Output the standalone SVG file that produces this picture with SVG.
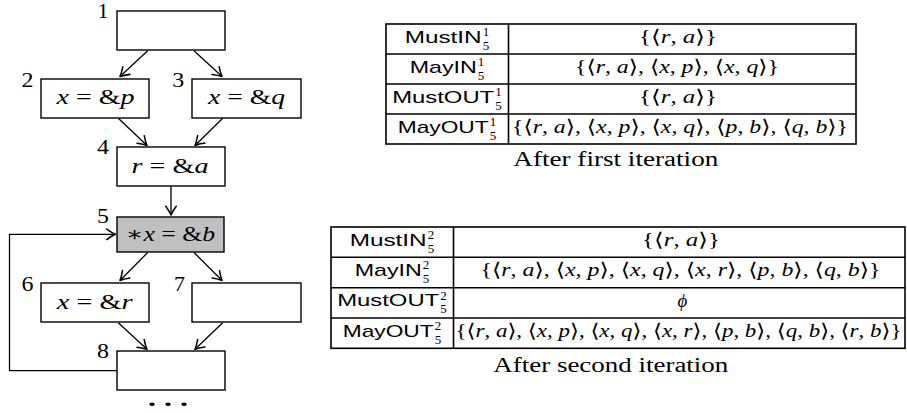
<svg xmlns="http://www.w3.org/2000/svg" width="907" height="413" viewBox="0 0 907 413">
<style>
  .box { fill: #ffffff; stroke: #000; stroke-width: 1.4; }
  .gray { fill: #c0c0c0; }
  .edge { fill: none; stroke: #000; stroke-width: 1.3; marker-end: url(#arr); }
  .tline { stroke: #000; stroke-width: 1.6; fill: none; }
  .num { font-family: "Liberation Serif", "DejaVu Serif", serif; font-size: 20px; text-anchor: middle; fill: #000; }
  .ntx { font-family: "Liberation Serif", "DejaVu Serif", serif; font-size: 20px; text-anchor: middle; fill: #000; }
  .lab { font-family: "Liberation Sans", "DejaVu Sans", sans-serif; font-size: 17px; fill: #000; }
  .scr { font-family: "Liberation Serif", "DejaVu Serif", serif; font-size: 12px; fill: #000; }
  .mth { font-family: "Liberation Serif", "DejaVu Serif", serif; font-size: 19px; text-anchor: middle; fill: #000; }
  .cap { font-family: "Liberation Serif", "DejaVu Serif", serif; font-size: 20px; text-anchor: middle; fill: #000; }
  .i { font-style: italic; }
</style>
<defs>
  <marker id="arr" markerUnits="userSpaceOnUse" markerWidth="14" markerHeight="14" refX="0" refY="0" viewBox="-9 -6 11 12" orient="auto" overflow="visible">
    <path d="M-7.5,-4.5 Q-3,-1.2 0,0 Q-3,1.2 -7.5,4.5" fill="none" stroke="#000" stroke-width="1.3" stroke-linecap="round" stroke-linejoin="round"/>
  </marker>
</defs>

<g id="connectors">
  <path id="e12" class="edge" d="M147.7,50.7 L120,76.5"/>
  <path id="e13" class="edge" d="M194,50.7 L222,76.5"/>
  <path id="e24" class="edge" d="M118.3,118.3 L147,145.5"/>
  <path id="e34" class="edge" d="M222.7,118.3 L195,145.5"/>
  <path id="e45" class="edge" d="M171,186 L171,215"/>
  <path id="e56" class="edge" d="M147.7,252.5 L120,280.5"/>
  <path id="e57" class="edge" d="M194,252.5 L222,280.5"/>
  <path id="e68" class="edge" d="M118.3,322.7 L147,349.3"/>
  <path id="e78" class="edge" d="M222.7,322.7 L195,349.3"/>
  <path id="e85" class="edge" d="M117,370.7 H9.5 V234.3 H115.5"/>
</g>

<g id="n1">
  <rect class="box" x="117" y="11" width="108" height="39"/>
  <text class="num" x="103" y="18" textLength="11" lengthAdjust="spacingAndGlyphs">1</text>
</g>
<g id="n2">
  <rect class="box" x="41" y="79" width="108" height="39"/>
  <text class="num" x="27.5" y="87" textLength="12" lengthAdjust="spacingAndGlyphs">2</text>
  <text class="ntx" x="95.5" y="104" textLength="78" lengthAdjust="spacingAndGlyphs"><tspan class="i">x</tspan> = &amp;<tspan class="i">p</tspan></text>
</g>
<g id="n3">
  <rect class="box" x="192" y="79" width="109" height="39"/>
  <text class="num" x="178.2" y="87" textLength="12" lengthAdjust="spacingAndGlyphs">3</text>
  <text class="ntx" x="246.6" y="104" textLength="77" lengthAdjust="spacingAndGlyphs"><tspan class="i">x</tspan> = &amp;<tspan class="i">q</tspan></text>
</g>
<g id="n4">
  <rect class="box" x="117" y="147" width="108" height="39"/>
  <text class="num" x="103" y="154" textLength="12" lengthAdjust="spacingAndGlyphs">4</text>
  <text class="ntx" x="170" y="172.5" textLength="77" lengthAdjust="spacingAndGlyphs"><tspan class="i">r</tspan> = &amp;<tspan class="i">a</tspan></text>
</g>
<g id="n5">
  <rect class="box gray" x="117" y="217" width="107" height="35"/>
  <text class="num" x="103" y="223" textLength="12" lengthAdjust="spacingAndGlyphs">5</text>
  <text class="ntx" x="170.5" y="241" textLength="89" lengthAdjust="spacingAndGlyphs">∗<tspan class="i">x</tspan> = &amp;<tspan class="i">b</tspan></text>
</g>
<g id="n6">
  <rect class="box" x="41" y="283" width="108" height="39"/>
  <text class="num" x="27.5" y="290.5" textLength="12" lengthAdjust="spacingAndGlyphs">6</text>
  <text class="ntx" x="94.7" y="308.5" textLength="76" lengthAdjust="spacingAndGlyphs"><tspan class="i">x</tspan> = &amp;<tspan class="i">r</tspan></text>
</g>
<g id="n7">
  <rect class="box" x="192" y="283" width="109" height="39"/>
  <text class="num" x="179.6" y="290.5" textLength="11" lengthAdjust="spacingAndGlyphs">7</text>
</g>
<g id="n8">
  <rect class="box" x="117" y="351" width="108" height="39"/>
  <text class="num" x="103" y="357.5" textLength="12" lengthAdjust="spacingAndGlyphs">8</text>
</g>
<g id="dots">
  <text class="num" x="168" y="406" style="font-size:21px;font-weight:bold" textLength="40" lengthAdjust="spacingAndGlyphs">. . .</text>
</g>

<g id="table1">
  <rect class="tline" x="386" y="24" width="470" height="120"/>
  <path class="tline" d="M508.5,24 V144 M386,54 H856 M386,84 H856 M386,114 H856"/>
  <text class="lab" x="404.7" y="42.5" textLength="77" lengthAdjust="spacingAndGlyphs">MustIN</text>
  <text class="scr" x="482.7" y="36" textLength="6.5" lengthAdjust="spacingAndGlyphs">1</text>
  <text class="scr" x="482.7" y="49.5" textLength="6.5" lengthAdjust="spacingAndGlyphs">5</text>
  <text class="lab" x="409.7" y="72.5" textLength="67" lengthAdjust="spacingAndGlyphs">MayIN</text>
  <text class="scr" x="477.7" y="66" textLength="6.5" lengthAdjust="spacingAndGlyphs">1</text>
  <text class="scr" x="477.7" y="79.5" textLength="6.5" lengthAdjust="spacingAndGlyphs">5</text>
  <text class="lab" x="392.2" y="102.5" textLength="102" lengthAdjust="spacingAndGlyphs">MustOUT</text>
  <text class="scr" x="495.2" y="96" textLength="6.5" lengthAdjust="spacingAndGlyphs">1</text>
  <text class="scr" x="495.2" y="109.5" textLength="6.5" lengthAdjust="spacingAndGlyphs">5</text>
  <text class="lab" x="397.7" y="132.5" textLength="91" lengthAdjust="spacingAndGlyphs">MayOUT</text>
  <text class="scr" x="489.7" y="126" textLength="6.5" lengthAdjust="spacingAndGlyphs">1</text>
  <text class="scr" x="489.7" y="139.5" textLength="6.5" lengthAdjust="spacingAndGlyphs">5</text>

  <text class="mth" x="678" y="43" textLength="78" lengthAdjust="spacingAndGlyphs">{⟨<tspan class="i">r</tspan>, <tspan class="i">a</tspan>⟩}</text>
  <text class="mth" x="677" y="73" textLength="204" lengthAdjust="spacingAndGlyphs">{⟨<tspan class="i">r</tspan>, <tspan class="i">a</tspan>⟩, ⟨<tspan class="i">x</tspan>, <tspan class="i">p</tspan>⟩, ⟨<tspan class="i">x</tspan>, <tspan class="i">q</tspan>⟩}</text>
  <text class="mth" x="678" y="103" textLength="78" lengthAdjust="spacingAndGlyphs">{⟨<tspan class="i">r</tspan>, <tspan class="i">a</tspan>⟩}</text>
  <text class="mth" x="680" y="133" textLength="336" lengthAdjust="spacingAndGlyphs">{⟨<tspan class="i">r</tspan>, <tspan class="i">a</tspan>⟩, ⟨<tspan class="i">x</tspan>, <tspan class="i">p</tspan>⟩, ⟨<tspan class="i">x</tspan>, <tspan class="i">q</tspan>⟩, ⟨<tspan class="i">p</tspan>, <tspan class="i">b</tspan>⟩, ⟨<tspan class="i">q</tspan>, <tspan class="i">b</tspan>⟩}</text>
  <text class="cap" x="615.8" y="165.5" textLength="205" lengthAdjust="spacingAndGlyphs">After first iteration</text>
</g>

<g id="table2">
  <rect class="tline" x="331" y="227" width="574" height="121.3"/>
  <path class="tline" d="M453.5,227 V348.3 M331,257.3 H905 M331,287.7 H905 M331,318 H905"/>
  <text class="lab" x="349.7" y="245.5" textLength="77" lengthAdjust="spacingAndGlyphs">MustIN</text>
  <text class="scr" x="427.7" y="239" textLength="6.5" lengthAdjust="spacingAndGlyphs">2</text>
  <text class="scr" x="427.7" y="252.5" textLength="6.5" lengthAdjust="spacingAndGlyphs">5</text>
  <text class="lab" x="354.7" y="275.8" textLength="67" lengthAdjust="spacingAndGlyphs">MayIN</text>
  <text class="scr" x="422.7" y="269.3" textLength="6.5" lengthAdjust="spacingAndGlyphs">2</text>
  <text class="scr" x="422.7" y="282.8" textLength="6.5" lengthAdjust="spacingAndGlyphs">5</text>
  <text class="lab" x="337.2" y="306.2" textLength="102" lengthAdjust="spacingAndGlyphs">MustOUT</text>
  <text class="scr" x="440.2" y="299.7" textLength="6.5" lengthAdjust="spacingAndGlyphs">2</text>
  <text class="scr" x="440.2" y="313.2" textLength="6.5" lengthAdjust="spacingAndGlyphs">5</text>
  <text class="lab" x="342.7" y="336.5" textLength="91" lengthAdjust="spacingAndGlyphs">MayOUT</text>
  <text class="scr" x="434.7" y="330" textLength="6.5" lengthAdjust="spacingAndGlyphs">2</text>
  <text class="scr" x="434.7" y="343.5" textLength="6.5" lengthAdjust="spacingAndGlyphs">5</text>

  <text class="mth" x="681" y="246" textLength="78" lengthAdjust="spacingAndGlyphs">{⟨<tspan class="i">r</tspan>, <tspan class="i">a</tspan>⟩}</text>
  <text class="mth" x="680.5" y="276.3" textLength="400" lengthAdjust="spacingAndGlyphs">{⟨<tspan class="i">r</tspan>, <tspan class="i">a</tspan>⟩, ⟨<tspan class="i">x</tspan>, <tspan class="i">p</tspan>⟩, ⟨<tspan class="i">x</tspan>, <tspan class="i">q</tspan>⟩, ⟨<tspan class="i">x</tspan>, <tspan class="i">r</tspan>⟩, ⟨<tspan class="i">p</tspan>, <tspan class="i">b</tspan>⟩, ⟨<tspan class="i">q</tspan>, <tspan class="i">b</tspan>⟩}</text>
  <text class="mth i" x="682.5" y="306.7">ϕ</text>
  <text class="mth" x="678.5" y="337" textLength="446" lengthAdjust="spacingAndGlyphs">{⟨<tspan class="i">r</tspan>, <tspan class="i">a</tspan>⟩, ⟨<tspan class="i">x</tspan>, <tspan class="i">p</tspan>⟩, ⟨<tspan class="i">x</tspan>, <tspan class="i">q</tspan>⟩, ⟨<tspan class="i">x</tspan>, <tspan class="i">r</tspan>⟩, ⟨<tspan class="i">p</tspan>, <tspan class="i">b</tspan>⟩, ⟨<tspan class="i">q</tspan>, <tspan class="i">b</tspan>⟩, ⟨<tspan class="i">r</tspan>, <tspan class="i">b</tspan>⟩}</text>
  <text class="cap" x="610.8" y="371.5" textLength="235" lengthAdjust="spacingAndGlyphs">After second iteration</text>
</g>
</svg>
